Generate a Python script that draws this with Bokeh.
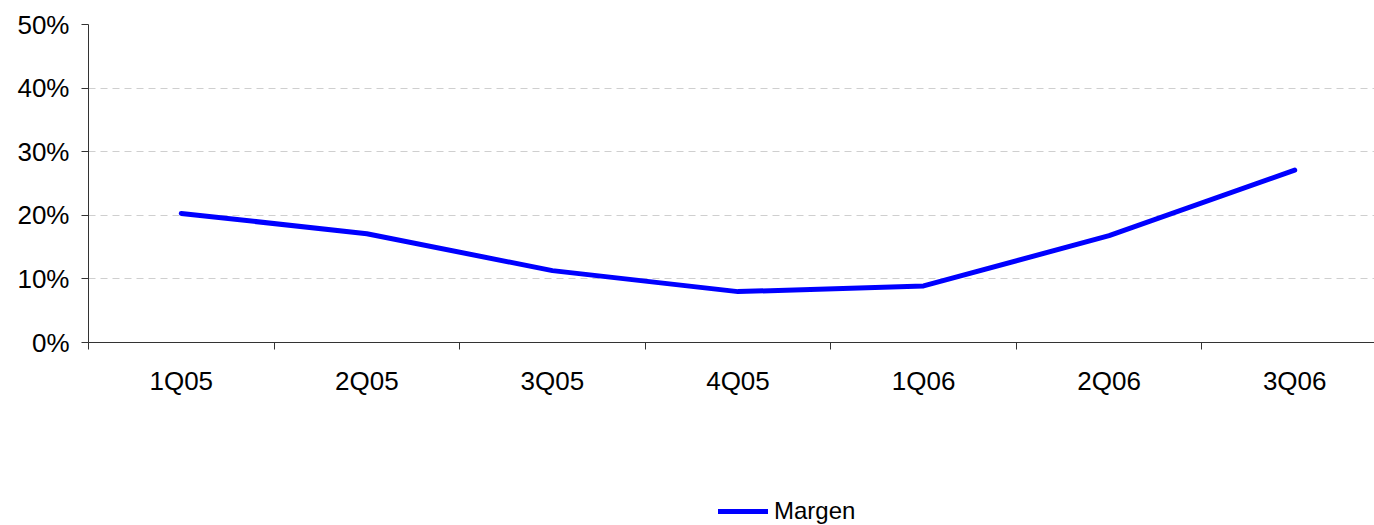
from bokeh.plotting import figure
from bokeh.layouts import column
from bokeh.models import Range1d, FixedTicker, Legend, LegendItem, NumeralTickFormatter
from bokeh.embed import file_html
from bokeh.resources import INLINE

# Quarterly margin series
quarters = ["1Q05", "2Q05", "3Q05", "4Q05", "1Q06", "2Q06", "3Q06"]
margen = [0.203, 0.171, 0.113, 0.080, 0.089, 0.168, 0.271]
y_ticks = [0.0, 0.1, 0.2, 0.3, 0.4, 0.5]

FONT = "Liberation Sans"
BLUE = "#0000FF"

x_pos = [i + 0.5 for i in range(len(quarters))]

p = figure(
    width=1374, height=420,
    x_range=Range1d(0, 6.93), y_range=Range1d(0, 0.5),
    output_backend="svg", toolbar_location=None,
    min_border_left=88, min_border_right=0, min_border_top=24, min_border_bottom=78,
)
p.outline_line_color = None
p.background_fill_color = "white"
p.border_fill_color = "white"

line = p.line(x_pos, margen, line_color=BLUE, line_width=5,
              line_cap="round", line_join="round")

# x axis: labels centred in each band, tick marks on band edges
xa = p.xaxis[0]
xa.ticker = FixedTicker(ticks=x_pos, minor_ticks=list(range(len(quarters) + 1)))
xa.major_label_overrides = {x: q for x, q in zip(x_pos, quarters)}
xa.major_tick_out = 0
xa.major_tick_in = 0
xa.minor_tick_out = 7
xa.minor_tick_in = 0
xa.minor_tick_line_color = "#333333"
xa.axis_line_color = "#333333"
xa.major_label_text_font = FONT
xa.major_label_text_font_size = "26px"
xa.major_label_text_color = "#000000"
xa.major_label_standoff = 16

ya = p.yaxis[0]
ya.ticker = FixedTicker(ticks=y_ticks)
ya.formatter = NumeralTickFormatter(format="0%")
ya.major_tick_out = 7
ya.major_tick_in = 0
ya.minor_tick_line_color = None
ya.axis_line_color = "#333333"
ya.major_tick_line_color = "#333333"
ya.major_label_text_font = FONT
ya.major_label_text_font_size = "26px"
ya.major_label_text_color = "#000000"
ya.major_label_standoff = 12

p.xgrid.grid_line_color = None
p.ygrid.grid_line_color = "#cfcfcf"
p.ygrid.grid_line_dash = "7 5"
p.ygrid.grid_line_width = 1

# legend strip underneath the chart (its frame lines up with the chart's frame)
lg = figure(
    width=1374, height=105,
    x_range=Range1d(0, 1), y_range=Range1d(0, 1),
    x_axis_type=None, y_axis_type=None,
    output_backend="svg", toolbar_location=None,
    min_border=0,
)
lg.outline_line_color = None
lg.xgrid.grid_line_color = None
lg.ygrid.grid_line_color = None
# key renderer for the legend entry; its points sit outside the visible range
key = lg.line(x=[0, 1], y=[-1, -1], line_color=BLUE, line_width=5, line_cap="round")

legend = Legend(
    items=[LegendItem(label="Margen", renderers=[key])],
    location=(630, 0),
    orientation="horizontal",
    border_line_color=None,
    background_fill_alpha=0,
    label_text_font=FONT,
    label_text_font_size="24px",
    label_text_color="#000000",
    glyph_width=50,
    glyph_height=20,
    label_height=20,
    label_standoff=6,
    padding=2,
    margin=0,
)
lg.add_layout(legend, "center")

open("out.html", "w").write(file_html(column(p, lg, spacing=0), INLINE))
